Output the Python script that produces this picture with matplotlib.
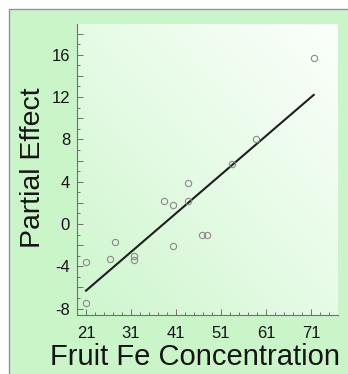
import numpy as np
import matplotlib
matplotlib.use("Agg")
import matplotlib.pyplot as plt
from matplotlib.colors import LinearSegmentedColormap
from matplotlib.patches import Rectangle
from matplotlib.ticker import MultipleLocator, FuncFormatter

# partial residuals
fe_conc = [21.0, 21.0, 26.4, 27.4, 31.7, 31.7, 38.3, 40.4, 40.4,
           43.7, 43.7, 46.8, 47.9, 53.4, 58.8, 71.6]
partial = [-3.6, -7.5, -3.3, -1.7, -3.0, -3.4, 2.2, 1.8, -2.05,
           3.9, 2.2, -1.05, -1.05, 5.65, 8.0, 15.7]

# fitted line, end points
line_x = [21.0, 71.6]
line_y = [-6.3, 12.2]

x_ticks = [21, 31, 41, 51, 61, 71]

plt.rcParams['font.family'] = ['Liberation Sans', 'DejaVu Sans']

fig = plt.figure(figsize=(3.48, 3.74), dpi=100)
fig.patch.set_facecolor('white')
# green panel with a thin grey frame on top/left
fig.patches.append(Rectangle((9 / 348, -0.05), 1.2, (374 - 9) / 374 + 0.05,
                             transform=fig.transFigure, facecolor='#c9f5c9',
                             edgecolor='#8a9a8a', lw=1.0, zorder=-10))

ax = fig.add_axes([77 / 348, 59 / 374, 261 / 348, 291 / 374])
ax.set_facecolor('none')

# diagonal gradient behind the data
gx, gy = np.meshgrid(np.linspace(0, 1, 200), np.linspace(0, 1, 200))
grad = (gx + gy) / 2
cmap = LinearSegmentedColormap.from_list('bg', ['#cdf6cd', '#e6fbe6', '#fbfffb'])
ax.imshow(grad, cmap=cmap, origin='lower', extent=[0, 1, 0, 1],
          transform=ax.transAxes, aspect='auto', zorder=0)

ax.plot(line_x, line_y, color='#1e1e1e', lw=1.5, zorder=2)
ax.plot(fe_conc, partial, 'o', mfc='none', mec='#8a8a8a', ms=4.5, mew=0.8, zorder=3)

ax.set_xlim(19.0, 77.0)
ax.set_ylim(-8.6, 18.9)

for s in ['top', 'right']:
    ax.spines[s].set_visible(False)
for s in ['left', 'bottom']:
    ax.spines[s].set_color('#707070')
    ax.spines[s].set_linewidth(0.8)

ax.set_xticks(x_ticks)
ax.set_xticks([v for v in range(19, 77, 2) if v not in x_ticks], minor=True)
ax.yaxis.set_major_locator(MultipleLocator(2))
ax.yaxis.set_minor_locator(MultipleLocator(1))
ax.yaxis.set_major_formatter(FuncFormatter(lambda v, p: '%d' % v if int(round(v)) % 4 == 0 else ''))

ax.tick_params(which='both', direction='in', color='#707070', width=0.7,
               labelsize=12, labelcolor='#151515')
ax.tick_params(which='major', length=4)
ax.tick_params(which='minor', length=2.2)
ax.tick_params(axis='x', pad=8)
ax.tick_params(axis='y', pad=5)

ax.set_xlabel('Fruit Fe Concentration', fontsize=21, color='#151515', va='center', ha='center')
ax.set_ylabel('Partial Effect', fontsize=20.5, color='#151515', va='center', ha='center')
ax.xaxis.set_label_coords(0.454, -0.145)
ax.yaxis.set_label_coords(-0.168, 0.505)

fig.savefig('out.png', dpi=100)
